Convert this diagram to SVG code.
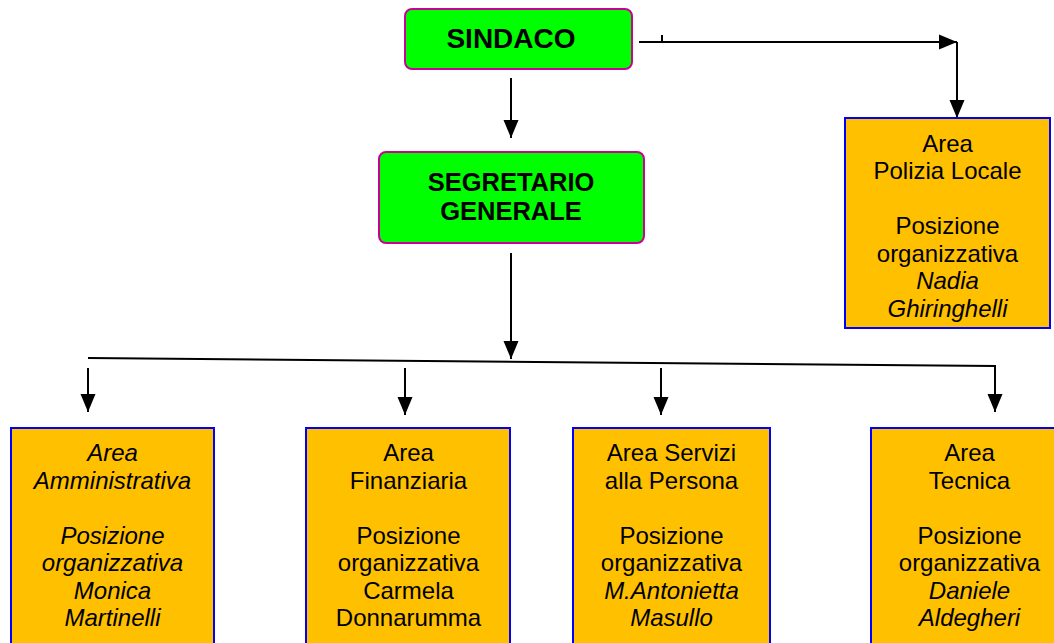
<svg xmlns="http://www.w3.org/2000/svg" width="1054" height="643" viewBox="0 0 1054 643">
<defs>
<marker id="ah" viewBox="0 0 18 16" refX="18" refY="8" markerWidth="18" markerHeight="16" markerUnits="userSpaceOnUse" orient="auto">
<path d="M0,0.5 L18,8 L0,15.5 Z" fill="#000"/>
</marker>
<style>
.g{fill:#00ff00;stroke:#cc0099;stroke-width:2}
.o{fill:#ffc000;stroke:#0000ff;stroke-width:2}
.b{font-family:"Liberation Sans",Arial,sans-serif;font-weight:bold;text-anchor:middle;fill:#000}
.t{font-family:"Liberation Sans",Arial,sans-serif;font-size:24px;text-anchor:middle;fill:#000}
.i{font-style:italic}
.c{fill:none;stroke:#000;stroke-width:2}
</style>
</defs>
<rect width="1054" height="643" fill="#fff"/>
<g id="connectors">
<line class="c" x1="511" y1="78" x2="511" y2="138" marker-end="url(#ah)"/>
<line class="c" x1="639" y1="42" x2="957" y2="42" marker-end="url(#ah)"/>
<line class="c" x1="662" y1="35" x2="662" y2="42"/>
<line class="c" x1="957" y1="42" x2="957" y2="118" marker-end="url(#ah)"/>
<line class="c" x1="511" y1="253" x2="511" y2="359" marker-end="url(#ah)"/>
<polyline class="c" points="88,358 995,366 995,412" marker-end="url(#ah)"/>
<line class="c" x1="88" y1="368" x2="88" y2="412" marker-end="url(#ah)"/>
<line class="c" x1="405" y1="368" x2="405" y2="415" marker-end="url(#ah)"/>
<line class="c" x1="661" y1="368" x2="661" y2="415" marker-end="url(#ah)"/>
</g>
<g id="sindaco">
<rect class="g" x="405" y="9" width="227" height="60" rx="7"/>
<text class="b" x="511" y="48" font-size="28">SINDACO</text>
</g>
<g id="segretario">
<rect class="g" x="379" y="152" width="265" height="91" rx="7"/>
<text class="b" x="511" y="191" font-size="25.5">SEGRETARIO</text>
<text class="b" x="511" y="220" font-size="25.5">GENERALE</text>
</g>
<g id="polizia">
<rect class="o" x="845" y="118" width="205" height="210"/>
<text class="t" x="947.5" y="151.5">Area</text>
<text class="t" x="947.5" y="179">Polizia Locale</text>
<text class="t" x="947.5" y="234">Posizione</text>
<text class="t" x="947.5" y="261.5">organizzativa</text>
<text class="t i" x="947.5" y="289">Nadia</text>
<text class="t i" x="947.5" y="316.5">Ghiringhelli</text>
</g>
<g id="amministrativa">
<rect class="o" x="11" y="428" width="203" height="230"/>
<text class="t i" x="112.5" y="461">Area</text>
<text class="t i" x="112.5" y="488.5">Amministrativa</text>
<text class="t i" x="112.5" y="543.5">Posizione</text>
<text class="t i" x="112.5" y="571">organizzativa</text>
<text class="t i" x="112.5" y="598.5">Monica</text>
<text class="t i" x="112.5" y="626">Martinelli</text>
</g>
<g id="finanziaria">
<rect class="o" x="306" y="428" width="204" height="230"/>
<text class="t" x="408.5" y="461">Area</text>
<text class="t" x="408.5" y="488.5">Finanziaria</text>
<text class="t" x="408.5" y="543.5">Posizione</text>
<text class="t" x="408.5" y="571">organizzativa</text>
<text class="t" x="408.5" y="598.5">Carmela</text>
<text class="t" x="408.5" y="626">Donnarumma</text>
</g>
<g id="servizi">
<rect class="o" x="573" y="428" width="197" height="230"/>
<text class="t" x="671.5" y="461">Area Servizi</text>
<text class="t" x="671.5" y="488.5">alla Persona</text>
<text class="t" x="671.5" y="543.5">Posizione</text>
<text class="t" x="671.5" y="571">organizzativa</text>
<text class="t i" x="671.5" y="598.5">M.Antonietta</text>
<text class="t i" x="671.5" y="626">Masullo</text>
</g>
<g id="tecnica">
<rect class="o" x="871" y="428" width="200" height="230"/>
<text class="t" x="969.5" y="461">Area</text>
<text class="t" x="969.5" y="488.5">Tecnica</text>
<text class="t" x="969.5" y="543.5">Posizione</text>
<text class="t" x="969.5" y="571">organizzativa</text>
<text class="t i" x="969.5" y="598.5">Daniele</text>
<text class="t i" x="969.5" y="626">Aldegheri</text>
</g>
</svg>
